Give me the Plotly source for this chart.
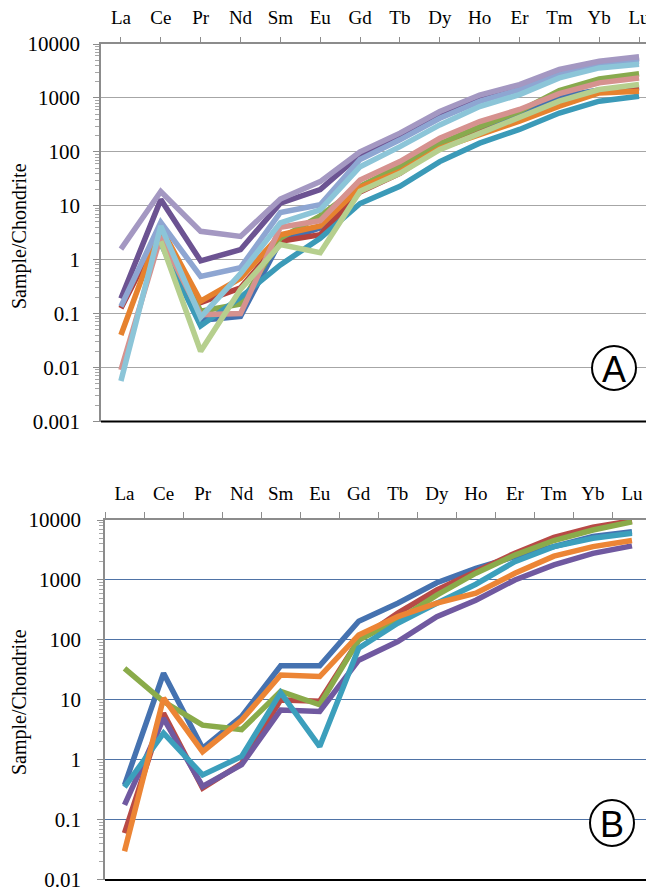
import plotly.graph_objects as go

elements = ["La", "Ce", "Pr", "Nd", "Sm", "Eu", "Gd", "Tb", "Dy", "Ho", "Er", "Tm", "Yb", "Lu"]

# Panel A series (chondrite-normalised)
a_blue = [None, 4.0, 0.075, 0.089, 2.2, 3.9, 20, 50, 135, 270, 520, 1050, 1400, 1600]
a_red = [0.125, 3.5, 0.16, 0.30, 2.2, 2.9, 18, 40, 120, 230, 400, 750, 1330, 1530]
a_green = [None, 3.5, 0.11, 0.15, 2.5, 6.5, 23, 54, 141, 290, 565, 1370, 2250, 2800]
a_purple = [0.19, 13, 0.95, 1.53, 11.2, 20, 88, 205, 520, 1080, 1650, 3100, 4500, 5400]
a_teal = [None, 2.0, 0.059, 0.2, 0.8, 2.5, 11, 23, 66, 145, 260, 525, 870, 1070]
a_orange = [0.04, 4.0, 0.17, 0.45, 2.9, 4.2, 22, 43, 117, 205, 370, 700, 1240, 1330]
a_periwinkle = [0.135, 4.9, 0.49, 0.71, 7.5, 10.4, 72, 167, 420, 860, 1430, 2700, 4150, 4800]
a_pink = [0.009, 2.7, 0.095, 0.1, 4.0, 5.3, 30, 66, 178, 365, 610, 1200, 1900, 2350]
a_lightgreen = [None, 2.2, 0.02, 0.28, 1.9, 1.35, 18.6, 40, 110, 220, 425, 870, 1430, 1770]
a_lightpurple = [1.57, 18.4, 3.35, 2.7, 13.3, 28, 100, 222, 560, 1130, 1770, 3370, 4800, 5800]
a_lightaqua = [0.0056, 4.2, 0.085, 0.55, 4.8, 8.4, 53, 125, 316, 690, 1150, 2350, 3600, 4200]

# Panel B series
b_blue = [0.38, 27.8, 1.56, 5.3, 37, 37, 205, 410, 900, 1560, 2450, 3600, 5300, 6400]
b_red = [0.06, 6.0, 0.34, 0.87, 10, 9.5, 100, 280, 680, 1380, 2800, 5150, 7600, 9700]
b_green = [33.6, 9.4, 3.8, 3.2, 13.8, 8.3, 100, 215, 560, 1300, 2600, 4550, 6800, 9300]
b_purple = [0.178, 4.9, 0.36, 0.83, 6.8, 6.4, 46, 94, 245, 460, 1000, 1780, 2780, 3700]
b_aqua = [0.35, 2.8, 0.56, 1.14, 13.2, 1.67, 73, 190, 410, 850, 2020, 3600, 4950, 6000]
b_orange = [0.03, 10.7, 1.37, 4.6, 26, 24.5, 121, 245, 410, 600, 1290, 2500, 3600, 4550]

a_tickvals = [0.001, 0.01, 0.1, 1, 10, 100, 1000, 10000]
a_ticktext = ["0.001", "0.01", "0.1", "1", "10", "100", "1000", "10000"]
b_tickvals = [0.01, 0.1, 1, 10, 100, 1000, 10000]
b_ticktext = ["0.01", "0.1", "1", "10", "100", "1000", "10000"]

# The page body has an 8px default margin; size the figure to fill the rest of the window
OFF = 8
W, H = 654 - OFF, 890 - OFF
def px(x):
    return (x - OFF) / W
def py(y):
    return 1 - (y - OFF) / H

series_a = [
    (a_blue, "#4471b0"), (a_red, "#b3413d"), (a_green, "#88aa4e"), (a_purple, "#6c5392"),
    (a_teal, "#3b9ab8"), (a_orange, "#e6822e"), (a_periwinkle, "#8ea6d2"), (a_pink, "#d6928f"),
    (a_lightgreen, "#b6cf8e"), (a_lightpurple, "#a498c2"), (a_lightaqua, "#8cc5d8"),
]
series_b = [
    (b_blue, "#4572b0"), (b_red, "#b84a46"), (b_green, "#8aab4a"),
    (b_purple, "#7059a0"), (b_aqua, "#3c9fbc"), (b_orange, "#ec8535"),
]

fig = go.Figure()
for vals, col in series_a:
    fig.add_trace(go.Scatter(x=elements, y=vals, mode="lines", line=dict(color=col, width=5.5),
                             xaxis="x", yaxis="y", showlegend=False, connectgaps=False))
for vals, col in series_b:
    fig.add_trace(go.Scatter(x=elements, y=vals, mode="lines", line=dict(color=col, width=5.5),
                             xaxis="x2", yaxis="y2", showlegend=False))

serif = "Liberation Serif"
tickfont = dict(family=serif, size=21, color="black")
xfont = dict(family=serif, size=19, color="black")
gray = "#8c8c8c"

fig.update_layout(
    width=W, height=H, margin=dict(l=0, r=0, t=0, b=0, autoexpand=False),
    paper_bgcolor="white", plot_bgcolor="white",
    xaxis=dict(domain=[px(101), 1.0], range=[-0.5, 13.375], side="top", type="category",
               showline=True, linecolor=gray, linewidth=1.5, ticks="outside", ticklen=5,
               tickcolor=gray, tickfont=xfont, ticklabelstandoff=6,
               showgrid=False, anchor="y", fixedrange=True),
    yaxis=dict(domain=[py(421.5), py(44)], type="log", range=[-3.002, 4], tickmode="array",
               tickvals=a_tickvals, ticktext=a_ticktext, tickfont=tickfont, ticklabelstandoff=9,
               ticklabeloverflow="allow",
               showline=True, linecolor=gray, linewidth=1.5, ticks="outside", ticklen=6,
               tickcolor=gray, showgrid=True, gridcolor="#a6a6a6", gridwidth=1.3,
               minor=dict(ticks="outside", ticklen=4, tickcolor="#a6a6a6", dtick="D1", showgrid=False),
               anchor="x", zeroline=False, fixedrange=True),
    xaxis2=dict(domain=[px(105), px(651.5)], range=[-0.5, 13.5], side="top", type="category",
                showline=True, linecolor=gray, linewidth=1.5, ticks="outside", ticklen=6,
                tickson="boundaries", tickcolor=gray, tickfont=xfont, ticklabelstandoff=11,
                showgrid=False, anchor="y2", fixedrange=True),
    yaxis2=dict(domain=[py(880), py(520)], type="log", range=[-2.003, 4], tickmode="array",
                tickvals=b_tickvals, ticktext=b_ticktext, tickfont=tickfont, ticklabelstandoff=12,
                ticklabeloverflow="allow",
                showline=True, linecolor=gray, linewidth=1.5, ticks="outside", ticklen=6,
                tickcolor=gray, showgrid=True, gridcolor="#4f73a6", gridwidth=1.3,
                minor=dict(ticks="outside", ticklen=4, tickcolor="#a6a6a6", dtick="D1", showgrid=False),
                anchor="x2", zeroline=False, fixedrange=True),
)

shapes = [
    dict(type="line", xref="x domain", yref="y domain", x0=0, x1=1, y0=0, y1=0,
         line=dict(color="black", width=2)),
    dict(type="line", xref="x2 domain", yref="y2 domain", x0=0, x1=1, y0=0, y1=0,
         line=dict(color="black", width=2)),
    dict(type="line", xref="x2 domain", yref="y2 domain", x0=1, x1=1, y0=0, y1=1,
         line=dict(color="#9a9a9a", width=1.5)),
    dict(type="circle", xref="paper", yref="paper", x0=px(592), x1=px(636), y0=py(390), y1=py(346),
         line=dict(color="black", width=2), fillcolor="white", layer="above"),
    dict(type="circle", xref="paper", yref="paper", x0=px(590), x1=px(634), y0=py(846), y1=py(800),
         line=dict(color="black", width=2), fillcolor="white", layer="above"),
]
fig.update_layout(shapes=shapes)

ann = [
    dict(text="Sample/Chondrite", x=px(19), y=py(236), xref="paper", yref="paper",
         xanchor="center", yanchor="middle",
         textangle=-90, showarrow=False, font=dict(family=serif, size=20, color="black")),
    dict(text="Sample/Chondrite", x=px(19), y=py(702), xref="paper", yref="paper",
         xanchor="center", yanchor="middle",
         textangle=-90, showarrow=False, font=dict(family=serif, size=20, color="black")),
    dict(text="A", x=px(614), y=py(369), xref="paper", yref="paper", showarrow=False,
         xanchor="center", yanchor="middle",
         font=dict(family="Liberation Sans", size=36, color="black")),
    dict(text="B", x=px(612), y=py(824), xref="paper", yref="paper", showarrow=False,
         xanchor="center", yanchor="middle",
         font=dict(family="Liberation Sans", size=36, color="black")),
]
fig.update_layout(annotations=ann)

fig.write_html("out.html")
